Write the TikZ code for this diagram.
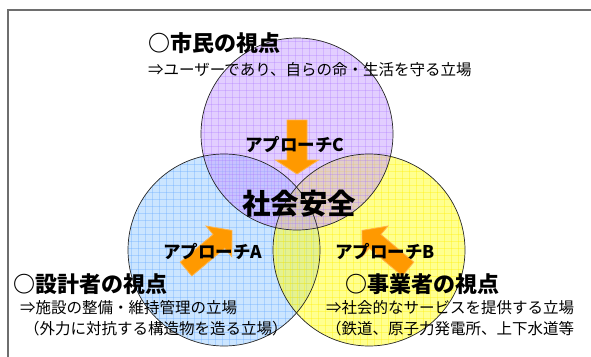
\documentclass[tikz,border=0pt]{standalone}
\usepackage{fontspec}
\setmainfont{Noto Sans CJK JP}
\definecolor{framegray}{HTML}{6E6E6E}
\definecolor{cpurple}{HTML}{C79EFF}
\definecolor{gpurple}{HTML}{A670FF}
\definecolor{cblue}{HTML}{99CCFF}
\definecolor{gblue}{HTML}{66AAFF}
\definecolor{cyellow}{HTML}{FFFF22}
\definecolor{gyellow}{HTML}{FFEE00}
\definecolor{arrowor}{HTML}{FF9900}
\definecolor{arrowedge}{HTML}{FFB347}
\newcommand{\blockarrowpath}[4]{% length, shaft width, head width, head length
  (0,-#2/2) -- (#1-#4,-#2/2) -- (#1-#4,-#3/2) -- (#1,0) -- (#1-#4,#3/2) -- (#1-#4,#2/2) -- (0,#2/2) -- cycle}
\begin{document}
\begin{tikzpicture}[x=1pt,y=-1pt,
  hdr/.style={font=\bfseries\fontsize{22}{24}\selectfont, anchor=west, inner sep=0pt},
  sub/.style={font=\fontsize{15.5}{17}\selectfont, anchor=west, inner sep=0pt},
  appr/.style={font=\bfseries\fontsize{17.5}{19}\selectfont, inner sep=0pt},
  core/.style={font=\bfseries\fontsize{28.5}{30}\selectfont, inner sep=0pt},
  barrow/.style={fill=arrowor, draw=arrowedge, line width=0.8pt, line join=miter},
  ring/.style={draw=black!85, line width=0.7pt}]
\useasboundingbox (0,0) rectangle (591,356);
\fill[white] (0,0) rectangle (591,356);
\draw[framegray, line width=1.3pt] (8,360) -- (8,10) -- (595,10);

\coordinate (cP) at (297,134);
\coordinate (cB) at (224,250);
\coordinate (cY) at (369,250);

% circle fills with grids
\foreach \c/\f/\g/\o in {cB/cblue/gblue/0.35, cY/cyellow/gyellow/0.35, cP/cpurple/gpurple/0.28}{
  \fill[\f, fill opacity=0.5] (\c) circle (96);
  \begin{scope}
    \clip (\c) circle (96);
    \path (\c) ++(-100,-100) coordinate (g0);
    \foreach \k in {0,7,...,200}{
      \draw[\g, draw opacity=\o, line width=0.6pt] ([xshift=\k pt]g0) -- ++(0,200);
      \draw[\g, draw opacity=\o, line width=0.6pt] ([yshift=-\k pt]g0) -- ++(200,0);
    }
  \end{scope}
}
\draw[ring] (cB) circle (96);
\draw[ring] (cY) circle (96);
\draw[ring] (cP) circle (96);

% block arrows
\begin{scope}[shift={(297,120)}, rotate=-90]
  \draw[barrow] \blockarrowpath{54}{20}{43}{14};
\end{scope}
\begin{scope}[shift={(186,269)}, rotate=40]
  \draw[barrow] \blockarrowpath{60}{18}{40}{17};
\end{scope}
\begin{scope}[shift={(408,269)}, rotate=140]
  \draw[barrow] \blockarrowpath{60}{18}{40}{17};
\end{scope}

% texts
\node[appr] (aC) at (295,145) {アプローチC};
\node[appr] (aA) at (213,252) {アプローチA};
\node[appr] (aB) at (385,252) {アプローチB};
\node[core] (core) at (299,204) {社会安全};

\node[hdr] (hP) at (148,43) {○市民の視点};
\node[sub] (sP) at (148,70) {⇒ユーザーであり、自らの命・生活を守る立場};

\node[hdr] (hB) at (13,284) {○設計者の視点};
\node[sub] (sB1) at (20,308) {⇒施設の整備・維持管理の立場};
\node[sub] (sB2) at (24,329) {（外力に対抗する構造物を造る立場）};

\node[hdr] (hY) at (345,284) {○事業者の視点};
\node[sub] (sY1) at (326,308) {⇒社会的なサービスを提供する立場};
\node[sub] (sY2) at (326,329) {（鉄道、原子力発電所、上下水道等};
\end{tikzpicture}
\end{document}
